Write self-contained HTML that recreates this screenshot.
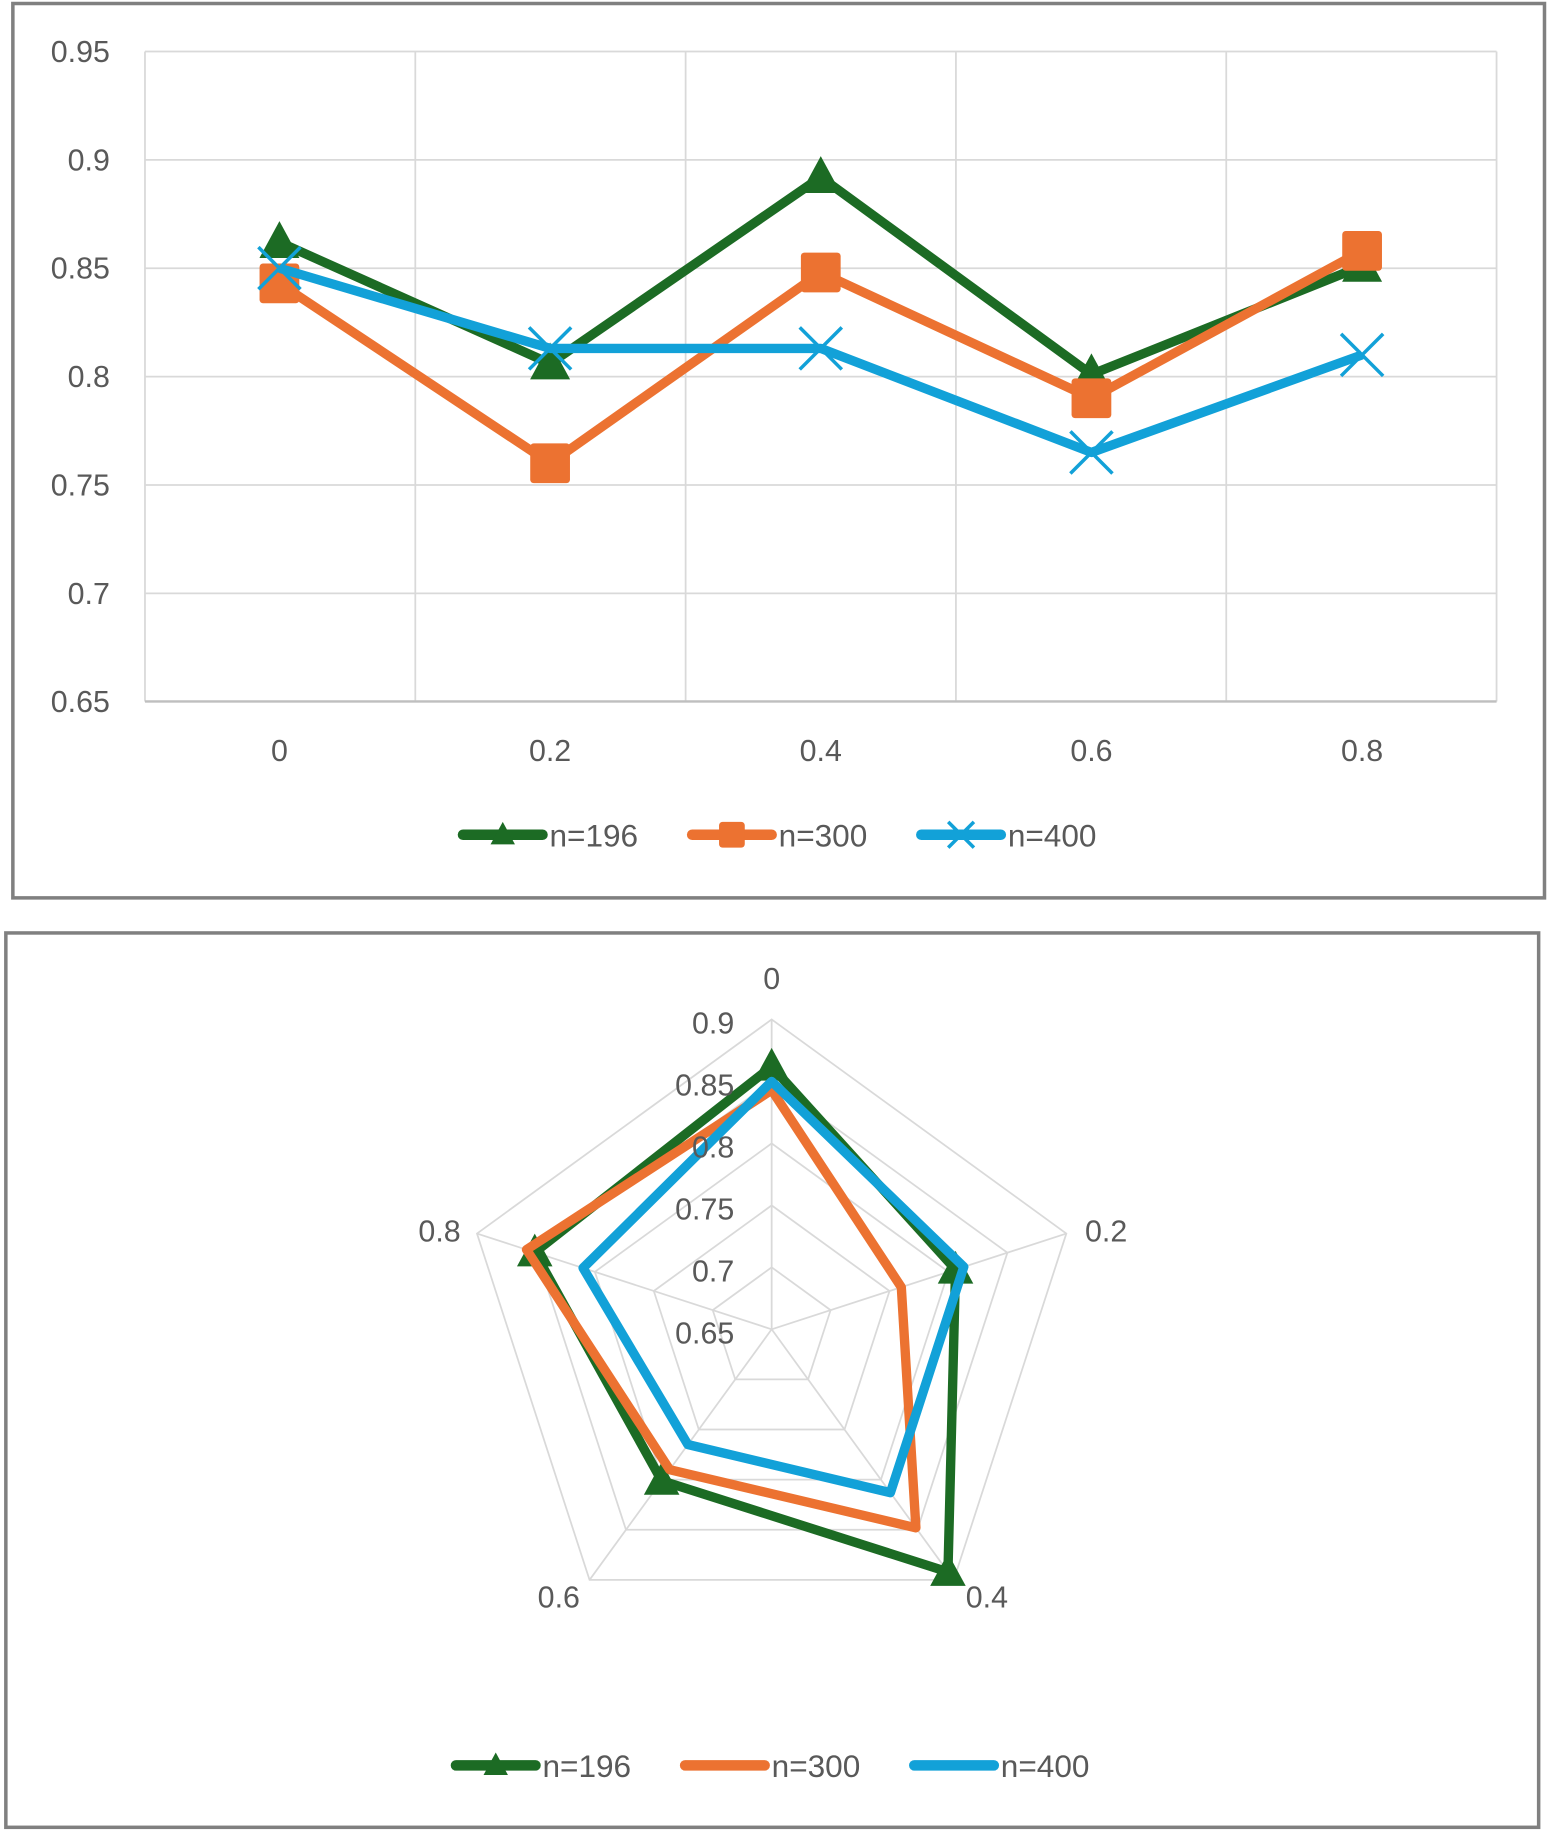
<!DOCTYPE html>
<html><head><meta charset="utf-8"><style>
html,body{margin:0;padding:0;background:#fff;}
svg{display:block;}
text{font-family:"Liberation Sans",sans-serif;fill:#595959;}
</style></head><body>
<svg id="s" width="1548" height="1832" viewBox="0 0 1324 1567" preserveAspectRatio="none" xmlns="http://www.w3.org/2000/svg">
<rect x="0" y="0" width="1324" height="1567" fill="#fff"/>
<rect x="11" y="3" width="1310" height="765" fill="none" stroke="#808080" stroke-width="3"/>
<rect x="5" y="798" width="1311" height="765" fill="none" stroke="#808080" stroke-width="3"/>
<g id="g"></g>
</svg>
<script>
var g=document.getElementById('g'),h='';
var G='#1c6b24',O='#ec7231',B='#12a1d8';
var D=[[.862,.806,.892,.801,.851],[.843,.760,.848,.790,.858],[.850,.813,.813,.765,.810]];
var C=[G,O,B];
function Y(v){return 44+(0.95-v)/0.05*92.7;}
function X(i){return 239+i*231.5;}
// grid
for(var k=0;k<7;k++){var v=0.95-k*0.05,y=Y(v);h+='<line x1="124" x2="1280" y1="'+y+'" y2="'+y+'" stroke="#d9d9d9" stroke-width="1.5"/>';
h+='<text x="94" y="'+(y+9)+'" font-size="26" text-anchor="end">'+(+v.toFixed(2))+'</text>';}
for(var k=0;k<6;k++){var x=124+k*231.2;h+='<line x1="'+x+'" x2="'+x+'" y1="44" y2="600" stroke="#d9d9d9" stroke-width="1.5"/>';}
h+='<line x1="124" x2="1280" y1="600" y2="600" stroke="#bfbfbf" stroke-width="2"/>';
['0','0.2','0.4','0.6','0.8'].forEach(function(t,i){h+='<text x="'+X(i)+'" y="651" font-size="26" text-anchor="middle">'+t+'</text>';});
function mark(s,x,y,sz){
 if(s==0)return '<polygon points="'+x+','+(y-sz)+' '+(x+sz*0.95)+','+(y+sz*0.75)+' '+(x-sz*0.95)+','+(y+sz*0.75)+'" fill="'+G+'"/>';
 if(s==1)return '<rect x="'+(x-sz)+'" y="'+(y-sz)+'" width="'+2*sz+'" height="'+2*sz+'" rx="3" fill="'+O+'"/>';
 return '<path d="M'+(x-sz)+','+(y-sz)+'L'+(x+sz)+','+(y+sz)+'M'+(x+sz)+','+(y-sz)+'L'+(x-sz)+','+(y+sz)+'" stroke="'+B+'" stroke-width="3"/>';
}
for(var s=0;s<3;s++){var p=D[s].map(function(v,i){return X(i)+','+Y(v);}).join(' ');
 h+='<polyline points="'+p+'" fill="none" stroke="'+C[s]+'" stroke-width="8" stroke-linejoin="round"/>';
 D[s].forEach(function(v,i){h+=mark(s,X(i),Y(v),s==1?17:18);});}
function legend(x0,y,m){var names=['n=196','n=300','n=400'];
 for(var s=0;s<3;s++){var x=x0+s*196;
  h+='<line x1="'+(x+4)+'" x2="'+(x+72)+'" y1="'+y+'" y2="'+y+'" stroke="'+C[s]+'" stroke-width="9" stroke-linecap="round"/>';
  if(m)h+=mark(s,x+38,y,11);else if(s==0)h+=mark(0,x+38,y,11);
  h+='<text x="'+(x+78)+'" y="'+(y+10)+'" font-size="27">'+names[s]+'</text>';}}
legend(392,714,true);
// radar
var cx=660,cy=1137,u=53;
function P(i,v){var r=(v-0.65)/0.05*u,a=i*72*Math.PI/180;return [cx+r*Math.sin(a),cy-r*Math.cos(a)];}
for(var k=1;k<=5;k++){var pts=[];for(var i=0;i<5;i++)pts.push(P(i,0.65+k*0.05).join(','));
 h+='<polygon points="'+pts.join(' ')+'" fill="none" stroke="#d9d9d9" stroke-width="1.5"/>';}
for(var i=0;i<5;i++){var q=P(i,0.9);h+='<line x1="'+cx+'" y1="'+cy+'" x2="'+q[0]+'" y2="'+q[1]+'" stroke="#d9d9d9" stroke-width="1.5"/>';}
for(var s=0;s<3;s++){var pts=D[s].map(function(v,i){return P(i,v).join(',');});
 h+='<polygon points="'+pts.join(' ')+'" fill="none" stroke="'+C[s]+'" stroke-width="8" stroke-linejoin="round"/>';
 if(s==0)D[0].forEach(function(v,i){var q=P(i,v);h+=mark(0,q[0],q[1],16);});}
['0.65','0.7','0.75','0.8','0.85','0.9'].forEach(function(t,k){h+='<text x="628" y="'+(cy+12-k*u)+'" font-size="26" text-anchor="end">'+t+'</text>';});
h+='<text x="660" y="846" font-size="26" text-anchor="middle">0</text>';
h+='<text x="928" y="1062" font-size="26">0.2</text>';
h+='<text x="826" y="1375" font-size="26">0.4</text>';
h+='<text x="496" y="1375" font-size="26" text-anchor="end">0.6</text>';
h+='<text x="394" y="1062" font-size="26" text-anchor="end">0.8</text>';
legend(386,1510,false);
g.innerHTML=h;
</script>
</body></html>
